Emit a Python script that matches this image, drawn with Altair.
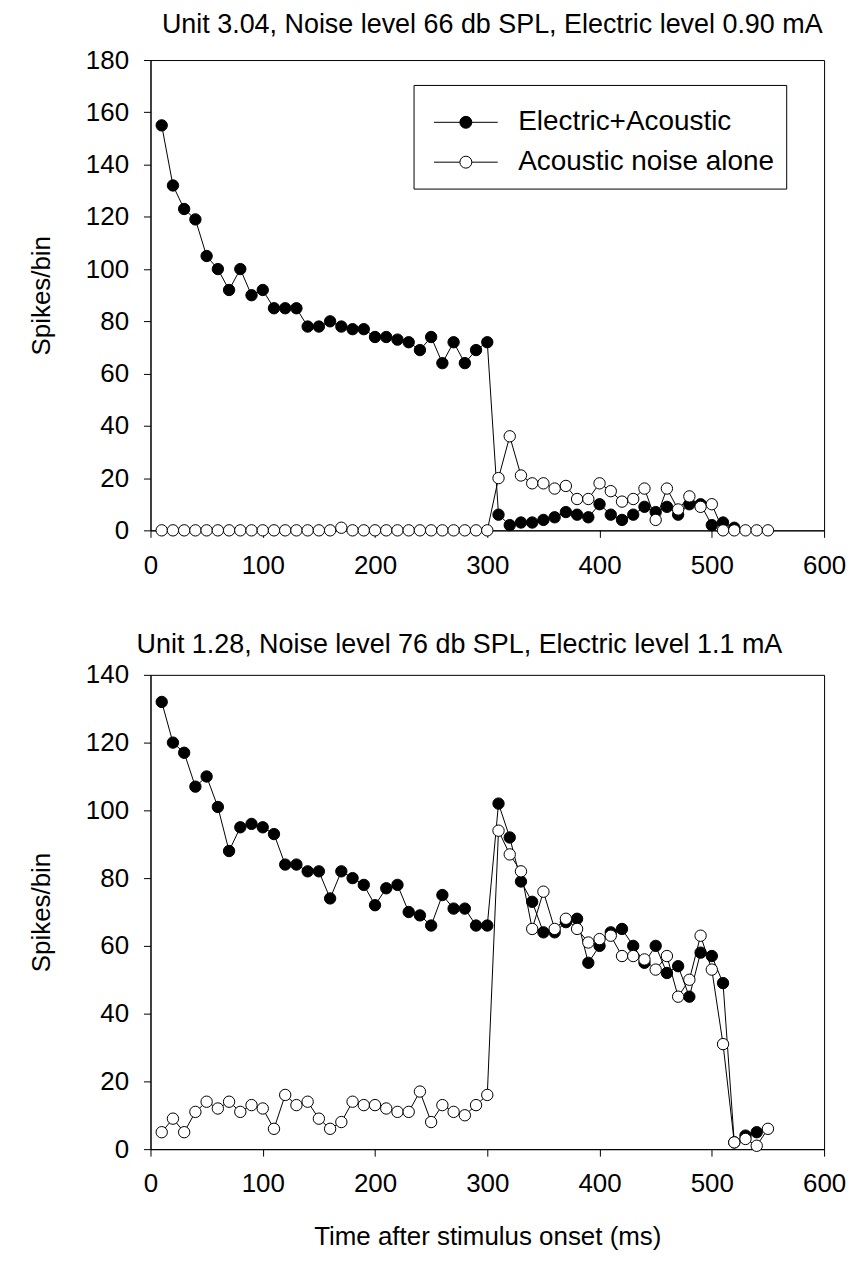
import altair as alt
import pandas as pd

FONT = "Liberation Sans"

series_names = ["Electric+Acoustic", "Acoustic noise alone"]
x_ticks = [0, 100, 200, 300, 400, 500, 600]

# ---- Top panel: Unit 3.04 ----
top_title = "Unit 3.04, Noise level 66 db SPL, Electric level 0.90 mA"
top_y_ticks = [0, 20, 40, 60, 80, 100, 120, 140, 160, 180]
top_ea_t = [10, 20, 30, 40, 50, 60, 70, 80, 90, 100, 110, 120, 130, 140, 150, 160, 170, 180, 190, 200,
            210, 220, 230, 240, 250, 260, 270, 280, 290, 300, 310, 320, 330, 340, 350, 360, 370, 380,
            390, 400, 410, 420, 430, 440, 450, 460, 470, 480, 490, 500, 510, 520]
top_ea_v = [155, 132, 123, 119, 105, 100, 92, 100, 90, 92, 85, 85, 85, 78, 78, 80, 78, 77, 77, 74,
            74, 73, 72, 69, 74, 64, 72, 64, 69, 72, 6, 2, 3, 3, 4, 5, 7, 6,
            5, 10, 6, 4, 6, 9, 7, 9, 6, 10, 10, 2, 3, 1]
top_ac_t = [10, 20, 30, 40, 50, 60, 70, 80, 90, 100, 110, 120, 130, 140, 150, 160, 170, 180, 190, 200,
            210, 220, 230, 240, 250, 260, 270, 280, 290, 300, 310, 320, 330, 340, 350, 360, 370, 380,
            390, 400, 410, 420, 430, 440, 450, 460, 470, 480, 490, 500, 510, 520, 530, 540, 550]
top_ac_v = [0, 0, 0, 0, 0, 0, 0, 0, 0, 0, 0, 0, 0, 0, 0, 0, 1, 0, 0, 0,
            0, 0, 0, 0, 0, 0, 0, 0, 0, 0, 20, 36, 21, 18, 18, 16, 17, 12,
            12, 18, 15, 11, 12, 16, 4, 16, 8, 13, 9, 10, 0, 0, 0, 0, 0]

# ---- Bottom panel: Unit 1.28 ----
bot_title = "Unit 1.28, Noise level 76 db SPL, Electric level 1.1 mA"
bot_y_ticks = [0, 20, 40, 60, 80, 100, 120, 140]
bot_ea_t = [10, 20, 30, 40, 50, 60, 70, 80, 90, 100, 110, 120, 130, 140, 150, 160, 170, 180, 190, 200,
            210, 220, 230, 240, 250, 260, 270, 280, 290, 300, 310, 320, 330, 340, 350, 360, 370, 380,
            390, 400, 410, 420, 430, 440, 450, 460, 470, 480, 490, 500, 510, 520, 530, 540]
bot_ea_v = [132, 120, 117, 107, 110, 101, 88, 95, 96, 95, 93, 84, 84, 82, 82, 74, 82, 80, 78, 72,
            77, 78, 70, 69, 66, 75, 71, 71, 66, 66, 102, 92, 79, 73, 64, 64, 67, 68,
            55, 60, 64, 65, 60, 55, 60, 52, 54, 45, 58, 57, 49, 2, 4, 5]
bot_ac_t = [10, 20, 30, 40, 50, 60, 70, 80, 90, 100, 110, 120, 130, 140, 150, 160, 170, 180, 190, 200,
            210, 220, 230, 240, 250, 260, 270, 280, 290, 300, 310, 320, 330, 340, 350, 360, 370, 380,
            390, 400, 410, 420, 430, 440, 450, 460, 470, 480, 490, 500, 510, 520, 530, 540, 550]
bot_ac_v = [5, 9, 5, 11, 14, 12, 14, 11, 13, 12, 6, 16, 13, 14, 9, 6, 8, 14, 13, 13,
            12, 11, 11, 17, 8, 13, 11, 10, 13, 16, 94, 87, 82, 65, 76, 65, 68, 65,
            61, 62, 63, 57, 57, 56, 53, 57, 45, 50, 63, 53, 31, 2, 3, 1, 6]


def make_df(ea_t, ea_v, ac_t, ac_v):
    a = pd.DataFrame({"t": ea_t, "v": ea_v, "series": series_names[0]})
    b = pd.DataFrame({"t": ac_t, "v": ac_v, "series": series_names[1]})
    return pd.concat([a, b], ignore_index=True)


# legend symbol: line segment with a circle in the middle (unit coords, r = 25 px)
LEG_PATH = ("M-1.28,0L-0.24,0M0.24,0L1.28,0"
            "M-0.24,0A0.24,0.24,0,1,1,0.24,0A0.24,0.24,0,1,1,-0.24,0Z")


def panel(df, title, ymax, yticks, height, title_offset, title_dx, ytitle, xtitle, legend):
    base = alt.Chart(df)
    x = alt.X("t:Q", scale=alt.Scale(domain=[0, 600], nice=False),
              axis=alt.Axis(values=x_ticks, title=xtitle, titlePadding=27))
    y = alt.Y("v:Q", scale=alt.Scale(domain=[0, ymax], nice=False),
              axis=alt.Axis(values=yticks, title=ytitle, titlePadding=31,
                            titleLineHeight=15))
    lines = base.mark_line(color="black", strokeWidth=1).encode(
        x=x, y=y, detail="series:N")
    if legend:
        leg = alt.Legend(
            title=None, orient="none", legendX=264, legendY=25,
            symbolType=LEG_PATH, symbolSize=2500, symbolStrokeColor="black",
            symbolStrokeWidth=1, symbolOffset=15, labelFont=FONT, labelFontSize=28,
            labelColor="black", strokeColor="black", fillColor="white",
            padding=12, rowPadding=0, labelOffset=27, labelLimit=400)
    else:
        leg = None
    pts = base.mark_point(shape="circle", filled=True, size=130, stroke="black",
                          strokeWidth=1, opacity=1).encode(
        x=x, y=y,
        fill=alt.Fill("series:N",
                      scale=alt.Scale(domain=series_names, range=["black", "white"]),
                      legend=leg, sort=series_names))
    return alt.layer(lines, pts).properties(
        width=676, height=height,
        title=alt.TitleParams(title, fontSize=27, font=FONT, fontWeight="normal",
                              color="black", offset=title_offset, anchor="middle",
                              dx=title_dx))


top = panel(make_df(top_ea_t, top_ea_v, top_ac_t, top_ac_v), top_title, 180,
            top_y_ticks, 472, 8, 5, ["", "Spikes/bin"], None, True)
bottom = panel(make_df(bot_ea_t, bot_ea_v, bot_ac_t, bot_ac_v), bot_title, 140,
               bot_y_ticks, 476, 3, -28, "Spikes/bin", "Time after stimulus onset (ms)", False)

chart = alt.concat(top, bottom, columns=1, align="none", spacing=51).resolve_scale(
    x="independent", y="independent", fill="independent"
).properties(
    padding={"top": 0, "bottom": 0, "left": 5, "right": 0}
).configure_view(stroke="black", strokeWidth=1).configure_axis(
    grid=False, domainColor="black", domainWidth=1, tickColor="black", tickWidth=1,
    tickSize=7, labelFont=FONT, labelFontSize=26, labelColor="black", labelPadding=15,
    titleFont=FONT, titleFontSize=26, titleFontWeight="normal", titleColor="black",
    labelFlush=False
)

chart.save("out.html", embed_options={"renderer": "svg", "actions": False})
